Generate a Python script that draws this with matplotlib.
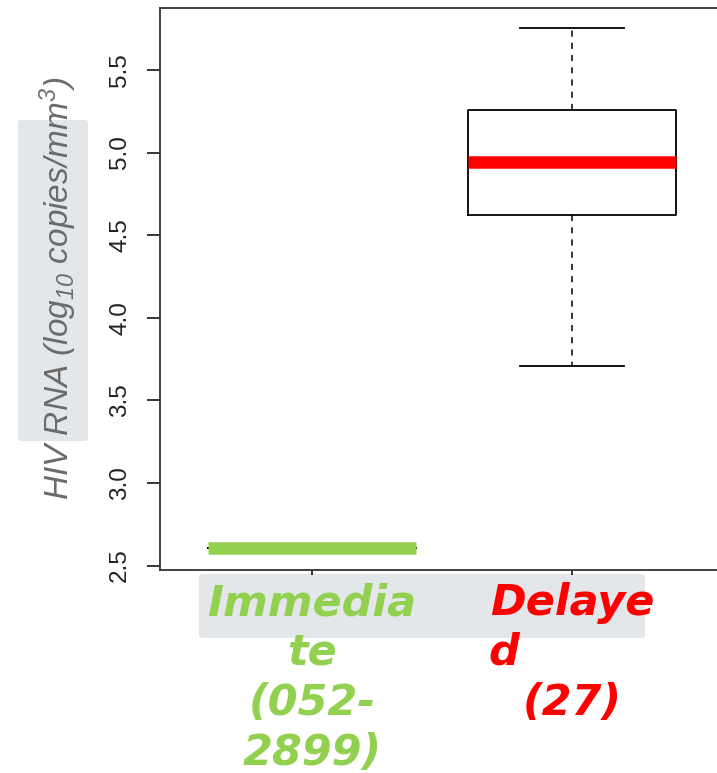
import matplotlib.pyplot as plt
from matplotlib.patches import FancyBboxPatch

plt.rcParams['mathtext.fontset'] = 'custom'
plt.rcParams['mathtext.rm'] = 'Liberation Sans:italic'
plt.rcParams['mathtext.it'] = 'Liberation Sans:italic'

# values (log10 copies/mm3)
groups = ['Immediate', 'Delayed']
tick_labels = ['Immedia\nte\n(052-\n2899)', 'Delaye\nd         \n(27)']
label_colors = ['#92d050', '#ff0000']
whislo = [2.605, 3.71]
q1 = [2.605, 4.62]
med = [2.605, 4.945]
q3 = [2.605, 5.26]
whishi = [2.605, 5.755]

W, H = 717, 773
fig = plt.figure(figsize=(W / 100, H / 100), dpi=100)

# grey placeholder boxes behind the labels (slide background)
fig.patches.append(FancyBboxPatch((18 / W, 1 - 441 / H), 70 / W, 321 / H,
                                  boxstyle='round,pad=0,rounding_size=0.004',
                                  transform=fig.transFigure, fc='#e4e7ea', ec='none', zorder=-1))
fig.patches.append(FancyBboxPatch((199 / W, 1 - 638 / H), 446 / W, 64 / H,
                                  boxstyle='round,pad=0,rounding_size=0.004',
                                  transform=fig.transFigure, fc='#e4e7ea', ec='none', zorder=-1))

ax = fig.add_axes([160 / W, 1 - 569.5 / H, 563 / W, 562 / H])
ax.patch.set_alpha(0)

stats = []
for i in range(len(groups)):
    stats.append({'label': groups[i], 'whislo': whislo[i], 'q1': q1[i], 'med': med[i],
                  'q3': q3[i], 'whishi': whishi[i], 'fliers': []})

bp = ax.bxp(stats, positions=[1, 2], widths=0.8, showfliers=False,
            boxprops=dict(color='black', linewidth=1.3),
            whiskerprops=dict(color='black', linewidth=1.1, linestyle=(0, (4, 4))),
            capprops=dict(color='black', linewidth=1.3),
            medianprops=dict(linewidth=9, solid_capstyle='butt'))
for line, c in zip(bp['medians'], label_colors):
    line.set_color(c)
    line.set_zorder(5)

ax.set_xlim(0.415, 2.58)
ax.set_ylim(2.476, 5.878)
ax.set_yticks([2.5, 3.0, 3.5, 4.0, 4.5, 5.0, 5.5])
ax.set_yticklabels(['2.5', '3.0', '3.5', '4.0', '4.5', '5.0', '5.5'],
                   rotation=90, va='center', family='Liberation Sans', fontsize=17.5, color='#222222')
ax.tick_params(axis='y', length=9.5, width=1.1, pad=11.3)
ax.tick_params(axis='x', length=3.5, width=1.1, pad=5.5)
ax.set_xticks([1, 2])
ax.set_xticklabels(tick_labels, family='DejaVu Sans', fontweight='bold', style='italic',
                   fontsize=31)
for lab, c in zip(ax.get_xticklabels(), label_colors):
    lab.set_color(c)
    lab.set_linespacing(1.24)

for s in ax.spines.values():
    s.set_linewidth(1.3)
    s.set_color('#333333')

ax.set_ylabel(r'HIV RNA (log$_{10}$ copies/mm$^3$)', family='Liberation Sans', style='italic',
              fontsize=24, color='#6b6b6b', labelpad=21.7)

fig.savefig('out.png', dpi=100)
